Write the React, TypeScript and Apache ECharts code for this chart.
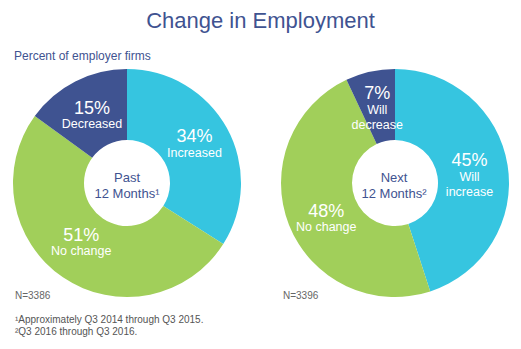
import React, { useEffect, useRef } from "react";
import * as echarts from "echarts";

const pastNames = ["Increased", "No change", "Decreased"];
const pastValues = [34, 51, 15];
const nextNames = ["Will\nincrease", "No change", "Will\ndecrease"];
const nextValues = [45, 48, 7];
const sliceColors = ["#36C5E0", "#A1CF5A", "#3F5391"];
const pastLabelShift = [[-4, 0], [0, -8], [2, 5]];
const nextLabelShift = [[-6, 5], [7, 5], [0, 5]];

const NAVY = "#3F5391";
const FONT = "Liberation Sans, Arial, sans-serif";

function labelFormatter(p: any) {
  const lines = String(p.name).split("\n").map((s: string) => `{n|${s}}`).join("\n");
  return `{p|${p.value}%}\n${lines}`;
}

function makePie(names: string[], values: number[], shifts: number[][], center: [number, number]) {
  return {
    type: "pie",
    center,
    radius: [43, 114],
    startAngle: 90,
    clockwise: true,
    silent: true,
    avoidLabelOverlap: false,
    label: {
      show: true,
      position: "inside",
      formatter: labelFormatter,
      rich: {
        p: { fontSize: 18, color: "#fff", fontFamily: FONT, lineHeight: 18, align: "center" },
        n: { fontSize: 12.5, color: "#fff", fontFamily: FONT, lineHeight: 15, align: "center" },
      },
    },
    labelLine: { show: false },
    data: names.map((n, i) => ({
      name: n,
      value: values[i],
      itemStyle: { color: sliceColors[i] },
      label: { offset: shifts[i] },
    })),
  };
}

export default function App() {
  const ref = useRef<HTMLDivElement>(null);
  useEffect(() => {
    if (!ref.current) return;
    const chart = echarts.init(ref.current, undefined, { renderer: "svg" });
    chart.setOption({
      animation: false,
      backgroundColor: "#fff",
      title: [
        {
          text: "Change in Employment",
          left: "center",
          top: 4,
          textStyle: { color: NAVY, fontSize: 22, fontWeight: "normal", fontFamily: FONT },
        },
        {
          text: "Percent of employer firms",
          left: 9,
          top: 45,
          textStyle: { color: NAVY, fontSize: 12, fontWeight: "normal", fontFamily: FONT },
        },
      ],
      graphic: [
        { type: "text", x: 127, y: 177, style: { text: "Past", fill: NAVY, font: `13px ${FONT}`, textAlign: "center", textVerticalAlign: "middle" } },
        { type: "text", x: 127, y: 193, style: { text: "12 Months\u00B9", fill: NAVY, font: `13px ${FONT}`, textAlign: "center", textVerticalAlign: "middle" } },
        { type: "text", x: 394, y: 177, style: { text: "Next", fill: NAVY, font: `13px ${FONT}`, textAlign: "center", textVerticalAlign: "middle" } },
        { type: "text", x: 394, y: 193, style: { text: "12 Months\u00B2", fill: NAVY, font: `13px ${FONT}`, textAlign: "center", textVerticalAlign: "middle" } },
        { type: "text", x: 15, y: 295, style: { text: "N=3386", fill: "#666", font: `10px ${FONT}`, textVerticalAlign: "middle" } },
        { type: "text", x: 283, y: 295, style: { text: "N=3396", fill: "#666", font: `10px ${FONT}`, textVerticalAlign: "middle" } },
        { type: "text", x: 15, y: 319, style: { text: "\u00B9Approximately Q3 2014 through Q3 2015.", fill: "#555", font: `10px ${FONT}`, textVerticalAlign: "middle" } },
        { type: "text", x: 15, y: 331, style: { text: "\u00B2Q3 2016 through Q3 2016.", fill: "#555", font: `10px ${FONT}`, textVerticalAlign: "middle" } },
      ],
      series: [
        makePie(pastNames, pastValues, pastLabelShift, [127, 183]),
        makePie(nextNames, nextValues, nextLabelShift, [395, 183]),
      ],
    });
    return () => chart.dispose();
  }, []);
  return <div ref={ref} style={{ position: "fixed", left: 0, top: 0, width: 521, height: 349 }} />;
}
